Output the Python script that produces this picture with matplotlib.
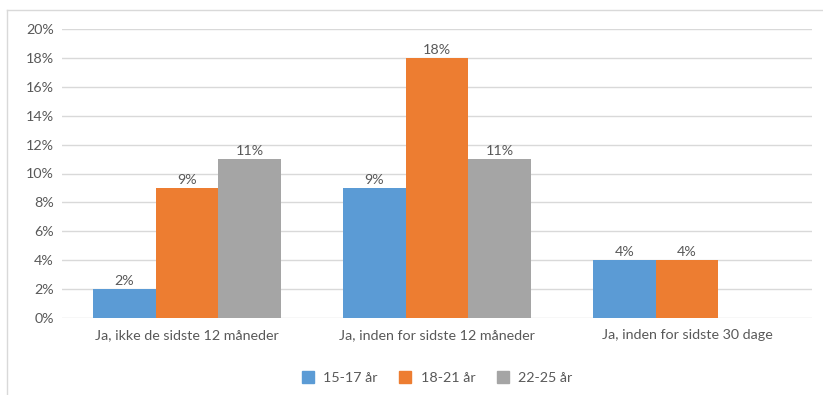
import matplotlib
matplotlib.use("Agg")
import matplotlib.pyplot as plt
import numpy as np
from matplotlib.lines import Line2D

categories = ["Ja, ikke de sidste 12 måneder", "Ja, inden for sidste 12 måneder", "Ja, inden for sidste 30 dage"]
series_names = ["15-17 år", "18-21 år", "22-25 år"]
values_15_17 = [2, 9, 4]
values_18_21 = [9, 18, 4]
values_22_25 = [11, 11, None]
yticks = [0, 2, 4, 6, 8, 10, 12, 14, 16, 18, 20]

colors = ["#5B9BD5", "#ED7D31", "#A5A5A5"]
text_color = "#595959"
fs = 10.3

plt.rcParams['font.family'] = ['Lato', 'DejaVu Sans']

fig = plt.figure(figsize=(8.23, 3.95), dpi=100)
ax = fig.add_axes([62/823, 1-318/395, (812-62)/823, (318-29)/395])

x = np.arange(len(categories))
w = 0.25
all_series = [values_15_17, values_18_21, values_22_25]
for i, (vals, c) in enumerate(zip(all_series, colors)):
    for xi, v in zip(x, vals):
        if v is None:
            continue
        pos = xi + (i - 1) * w
        ax.bar(pos, v, width=w, color=c, zorder=3)
        ax.text(pos, v + 0.15, f"{v}%", ha="center", va="bottom", fontsize=fs, color=text_color)

ax.set_xlim(-0.5, len(categories) - 0.5)
ax.set_ylim(0, 20)
ax.set_yticks(yticks)
ax.set_yticklabels([f"{t}%" for t in yticks], fontsize=fs, color=text_color)
ax.set_xticks(x)
ax.set_xticklabels(categories, fontsize=fs, color=text_color)
ax.tick_params(axis='x', length=0, pad=8)
ax.tick_params(axis='y', length=0, pad=6)
ax.yaxis.grid(True, color="#D9D9D9", linewidth=1, zorder=0)
for s in ax.spines.values():
    s.set_visible(False)

handles = [Line2D([0], [0], marker='s', linestyle='none', markersize=9, markerfacecolor=c, markeredgecolor=c) for c in colors]
fig.legend(handles, series_names, loc='center', bbox_to_anchor=(433/823, 1-378/395), ncol=3, frameon=False,
           fontsize=fs, labelcolor=text_color, handletextpad=0.1, columnspacing=0.9)

# chart frame (top and left edges)
fig.add_artist(Line2D([7/823, 1], [1-10/395, 1-10/395], color="#D9D9D9", linewidth=1, transform=fig.transFigure))
fig.add_artist(Line2D([7/823, 7/823], [0, 1-10/395], color="#D9D9D9", linewidth=1, transform=fig.transFigure))

fig.savefig("out.png", dpi=100, facecolor="white")
